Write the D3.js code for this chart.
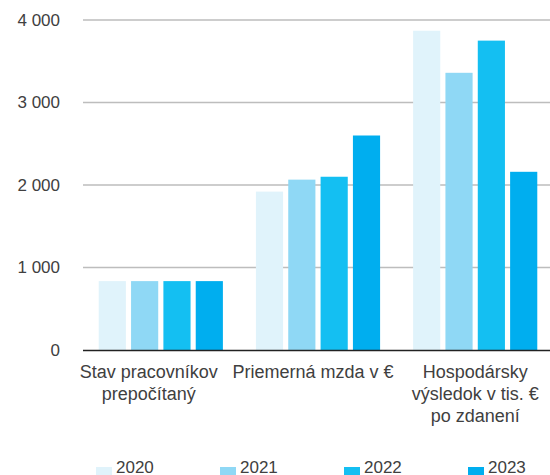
<!DOCTYPE html>
<html>
<head>
<meta charset="utf-8">
<script src="https://cdn.jsdelivr.net/npm/d3@7"></script>
<style>
    body { margin: 0; background: #fff; }
    text { font-family: "Liberation Sans", Arial, sans-serif; fill: #404040; }
</style>
</head>
<body>
<svg width="550" height="475"></svg>
<script>
let categories = [
    ["Stav pracovníkov", "prepočítaný"],
    ["Priemerná mzda v €"],
    ["Hospodársky", "výsledok v tis. €", "po zdanení"]
];
let years = ["2020", "2021", "2022", "2023"];
let values2020 = [835, 1920, 3870];
let values2021 = [835, 2065, 3360];
let values2022 = [835, 2100, 3750];
let values2023 = [835, 2600, 2160];
let yTicks = [0, 1000, 2000, 3000, 4000];
let colors = ["#e0f3fb", "#8fd8f5", "#14bff2", "#00aeef"];

let series = [values2020, values2021, values2022, values2023];

let svg = d3.select("svg"),
    margin = {
        top: 20,
        right: 0,
        bottom: 125,
        left: 83
    },
    width = +svg.attr("width"),
    height = +svg.attr("height"),
    plotWidth = width - margin.left - margin.right,
    plotHeight = height - margin.top - margin.bottom;

let locale = d3.formatLocale({ decimal: ",", thousands: " ", grouping: [3], currency: ["", " €"] });
let fmt = locale.format(",d");

let x0 = d3.scaleBand()
    .domain(d3.range(categories.length))
    .range([0, plotWidth + 3])
    .paddingInner(0.21)
    .paddingOuter(0.1);

let x1 = d3.scaleBand()
    .domain(years)
    .range([0, x0.bandwidth()])
    .paddingInner(0.16);

let y = d3.scaleLinear()
    .domain([0, 4000])
    .range([plotHeight, 0]);

let g = svg.append("g")
    .attr("transform", "translate(" + [margin.left, margin.top] + ")");

// gridlines
g.selectAll(".grid")
    .data(yTicks.filter(d => d > 0))
    .enter().append("line")
    .attr("class", "grid")
    .attr("x1", 0)
    .attr("x2", plotWidth)
    .attr("y1", d => y(d))
    .attr("y2", d => y(d))
    .attr("stroke", "#bdbdbd")
    .attr("stroke-width", 1.5);

// y labels
g.selectAll(".ylabel")
    .data(yTicks)
    .enter().append("text")
    .attr("class", "ylabel")
    .attr("x", -23)
    .attr("y", d => y(d))
    .attr("dy", "0.35em")
    .attr("text-anchor", "end")
    .style("font-size", "17px")
    .text(d => fmt(d));

// bars
let groups = g.selectAll(".group")
    .data(categories)
    .enter().append("g")
    .attr("class", "group")
    .attr("transform", (d, i) => "translate(" + [x0(i), 0] + ")");

groups.selectAll("rect")
    .data((d, i) => years.map((yr, j) => ({ year: yr, value: series[j][i], color: colors[j] })))
    .enter().append("rect")
    .attr("x", d => x1(d.year))
    .attr("width", x1.bandwidth())
    .attr("y", d => y(d.value))
    .attr("height", d => plotHeight - y(d.value))
    .attr("fill", d => d.color);

// zero line
g.append("line")
    .attr("x1", 0)
    .attr("x2", plotWidth)
    .attr("y1", plotHeight + 0.5)
    .attr("y2", plotHeight + 0.5)
    .attr("stroke", "#222")
    .attr("stroke-width", 1.5);

// category labels
g.selectAll(".xlabel")
    .data(categories)
    .enter().append("text")
    .attr("class", "xlabel")
    .attr("text-anchor", "middle")
    .attr("transform", (d, i) => "translate(" + [x0(i) + x0.bandwidth() / 2 - (i === 0 ? 12 : i === 1 ? 5 : 0), plotHeight + 28] + ")")
    .style("font-size", "18px")
    .selectAll("tspan")
    .data(d => d)
    .enter().append("tspan")
    .attr("x", 0)
    .attr("y", (d, i) => i * 22)
    .text(d => d);

// legend
let legend = svg.append("g")
    .attr("transform", "translate(" + [96, 458] + ")");

let item = legend.selectAll(".item")
    .data(years)
    .enter().append("g")
    .attr("class", "item")
    .attr("transform", (d, i) => "translate(" + [i * 124, 0] + ")");

item.append("rect")
    .attr("width", 16)
    .attr("height", 17)
    .attr("y", 9)
    .attr("fill", (d, i) => colors[i]);

item.append("text")
    .attr("x", 20)
    .attr("y", 15)
    .style("font-size", "17px")
    .text(d => d);
</script>
</body>
</html>
